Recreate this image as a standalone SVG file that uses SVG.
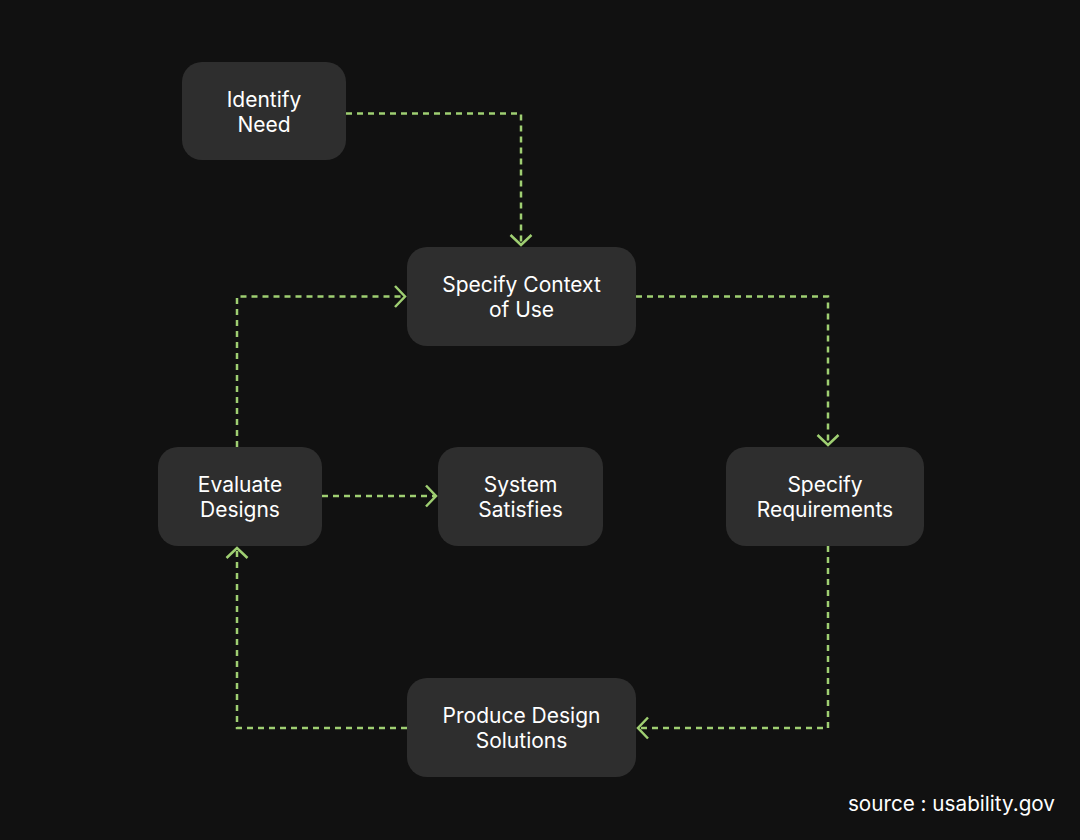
<svg xmlns="http://www.w3.org/2000/svg" width="1080" height="840" viewBox="0 0 1080 840">
<defs>
<style>
.node rect{fill:#2e2e2e}
.node text,.src{fill:#ffffff;font-family:Inter,"Noto Sans","Liberation Sans",sans-serif;font-size:21px;text-anchor:middle}
.src{text-anchor:end;font-size:20.7px}
.conn path{fill:none;stroke:#9fcf72;stroke-width:2.5;stroke-dasharray:6 5}
</style>
<marker id="arr" markerUnits="userSpaceOnUse" markerWidth="24" markerHeight="24" viewBox="-12 -12 24 24" refX="0" refY="0" orient="auto">
<path d="M-10,-10.5 L0,0 L-10,10.5" fill="none" stroke="#9fcf72" stroke-width="2.5"/>
</marker>
</defs>
<rect width="1080" height="840" fill="#111111"/>
<g class="conn">
<path d="M346,113.5 H521 V245" marker-end="url(#arr)"/>
<path d="M636,296.5 H828 V445" marker-end="url(#arr)"/>
<path d="M828,546 V728 H638" marker-end="url(#arr)"/>
<path d="M407,728 H237 V548" marker-end="url(#arr)"/>
<path d="M237,447 V296.5 H405" marker-end="url(#arr)"/>
<path d="M322,496 H436" marker-end="url(#arr)"/>
</g>
<g id="identify-need" class="node"><rect x="182" y="62" width="164" height="98" rx="20"/><text x="264" y="107">Identify</text><text x="264" y="132">Need</text></g>
<g id="specify-context" class="node"><rect x="407" y="247" width="229" height="99" rx="20"/><text x="521.5" y="292">Specify Context</text><text x="521.5" y="317">of Use</text></g>
<g id="evaluate-designs" class="node"><rect x="158" y="447" width="164" height="99" rx="20"/><text x="240" y="492">Evaluate</text><text x="240" y="517">Designs</text></g>
<g id="system-satisfies" class="node"><rect x="438" y="447" width="165" height="99" rx="20"/><text x="520.5" y="492">System</text><text x="520.5" y="517">Satisfies</text></g>
<g id="specify-requirements" class="node"><rect x="726" y="447" width="198" height="99" rx="20"/><text x="825" y="492">Specify</text><text x="825" y="517">Requirements</text></g>
<g id="produce-design" class="node"><rect x="407" y="678" width="229" height="99" rx="20"/><text x="521.5" y="723">Produce Design</text><text x="521.5" y="748">Solutions</text></g>
<text class="src" x="1055" y="811">source : usability.gov</text>
</svg>
